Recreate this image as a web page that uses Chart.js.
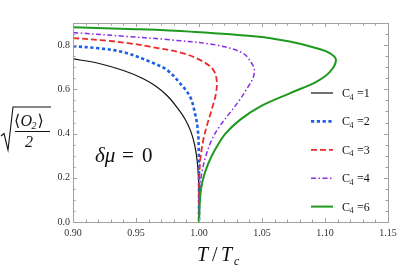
<!DOCTYPE html>
<html>
<head>
<meta charset="utf-8">
<script src="https://cdn.jsdelivr.net/npm/chart.js@4.4.1/dist/chart.umd.min.js"></script>
<style>
    html, body { margin: 0; padding: 0; background: #fff; }
    #wrap { width: 415px; height: 277px; }
</style>
</head>
<body>
<div id="wrap"><canvas id="chart" width="415" height="277"></canvas></div>
<script>
// T / Tc and sqrt(<O2>/2), one pair of arrays per C4
const c1T = [0.900, 0.920, 0.940, 0.955, 0.965, 0.975, 0.983, 0.989, 0.9935, 0.9965, 0.9985, 0.9996, 1.000, 1.000];
const c1V = [0.738, 0.718, 0.685, 0.650, 0.617, 0.570, 0.515, 0.465, 0.410, 0.350, 0.280, 0.200, 0.100, 0.000];

const c2T = [0.900, 0.920, 0.940, 0.961, 0.9744, 0.985, 0.9929, 0.9968, 0.9990, 0.9998, 1.000, 1.000];
const c2V = [0.795, 0.786, 0.768, 0.725, 0.688, 0.627, 0.567, 0.492, 0.420, 0.330, 0.200, 0.000];

const c3T = [0.900, 0.925, 0.945, 0.961, 0.9875, 1.0034, 1.0113, 1.0140, 1.0135, 1.0100, 1.0060, 1.0034, 1.0010, 1.0002, 1.000];
const c3V = [0.832, 0.821, 0.808, 0.793, 0.763, 0.725, 0.688, 0.643, 0.582, 0.507, 0.431, 0.371, 0.280, 0.200, 0.000];

const c4T = [0.900, 0.943, 0.977, 1.014, 1.035, 1.0418, 1.0440, 1.0428, 1.0390, 1.0320, 1.0240, 1.0160, 1.0100, 1.0055, 1.0025, 1.0008, 1.000, 1.000];
const c4V = [0.857, 0.839, 0.824, 0.800, 0.763, 0.718, 0.685, 0.650, 0.612, 0.550, 0.490, 0.430, 0.370, 0.300, 0.230, 0.160, 0.080, 0.000];

const c6T = [0.900, 0.950, 0.993, 1.0458, 1.072, 1.0934, 1.104, 1.1087, 1.104, 1.0934, 1.072, 1.0484, 1.0325, 1.021, 1.013, 1.007, 1.003, 1.001, 1.000];
const c6V = [0.881, 0.872, 0.861, 0.839, 0.816, 0.786, 0.763, 0.733, 0.680, 0.635, 0.582, 0.522, 0.462, 0.400, 0.330, 0.260, 0.190, 0.120, 0.000];

const c4Labels = ['1', '2', '3', '4', '6'];
const xTicks = [0.90, 0.95, 1.00, 1.05, 1.10, 1.15];
const yTicks = [0.0, 0.2, 0.4, 0.6, 0.8];

const SERIF = '"Liberation Serif", "DejaVu Serif", serif';

function pts(T, V) {
    return T.map((t, i) => ({ x: t, y: V[i] }));
}

// Mathematica style frame: box with inward ticks on all four sides
const framePlugin = {
    id: 'frame',
    afterDatasetsDraw(chart) {
        const { ctx, chartArea: a, scales: { x, y } } = chart;
        ctx.save();
        ctx.strokeStyle = '#a0a0a0';
        ctx.lineWidth = 1;
        ctx.setLineDash([]);
        ctx.strokeRect(a.left + 0.5, a.top + 0.5, a.right - a.left, a.bottom - a.top);

        ctx.beginPath();
        for (let i = 0; i <= 25; i++) {
            const px = Math.round(x.getPixelForValue(0.90 + i * 0.01)) + 0.5;
            const len = i % 5 === 0 ? 4 : 2.5;
            ctx.moveTo(px, a.bottom);
            ctx.lineTo(px, a.bottom - len);
            ctx.moveTo(px, a.top);
            ctx.lineTo(px, a.top + len);
        }
        for (let i = 0; i <= 18; i++) {
            const py = Math.round(y.getPixelForValue(i * 0.05)) + 0.5;
            const len = i % 4 === 0 ? 4 : 2.5;
            ctx.moveTo(a.left, py);
            ctx.lineTo(a.left + len, py);
            ctx.moveTo(a.right, py);
            ctx.lineTo(a.right - len, py);
        }
        ctx.stroke();
        ctx.restore();
    }
};

// legend rows, axis titles and the delta mu note
const textPlugin = {
    id: 'texts',
    afterDraw(chart) {
        const ctx = chart.ctx;
        ctx.save();
        ctx.fillStyle = '#111';
        ctx.textBaseline = 'alphabetic';
        ctx.textAlign = 'left';

        chart.data.datasets.forEach(function (ds, i) {
            const yRow = 93 + i * 28.4;
            ctx.save();
            ctx.strokeStyle = ds.borderColor;
            ctx.lineWidth = ds.borderWidth;
            ctx.setLineDash(ds.borderDash || []);
            ctx.beginPath();
            ctx.moveTo(311, yRow);
            ctx.lineTo(333, yRow);
            ctx.stroke();
            ctx.restore();

            ctx.font = '12px ' + SERIF;
            ctx.fillText('C', 342, yRow + 4);
            ctx.font = '8px ' + SERIF;
            ctx.fillText('4', 349.5, yRow + 6.5);
            ctx.font = '12px ' + SERIF;
            ctx.fillText('=' + c4Labels[i], 357, yRow + 4);
        });

        // delta mu = 0
        ctx.font = 'italic 21px ' + SERIF;
        ctx.fillText('δμ', 95, 162);
        ctx.font = '21px ' + SERIF;
        ctx.fillText('=', 122, 162);
        ctx.fillText('0', 142, 162);

        // x title T / T_c
        ctx.font = 'italic 20px ' + SERIF;
        ctx.fillText('T', 197, 261);
        ctx.font = '20px ' + SERIF;
        ctx.fillText('/', 212, 261);
        ctx.font = 'italic 20px ' + SERIF;
        ctx.fillText('T', 221, 261);
        ctx.font = 'italic 12px ' + SERIF;
        ctx.fillText('c', 234, 265);

        // y title sqrt(<O2>/2)
        ctx.strokeStyle = '#111';
        ctx.lineWidth = 1.1;
        ctx.beginPath();
        ctx.moveTo(1, 136);
        ctx.lineTo(4, 133.5);
        ctx.lineTo(8, 150);
        ctx.lineTo(13, 107);
        ctx.lineTo(51, 107);
        ctx.moveTo(15, 131.5);
        ctx.lineTo(50, 131.5);
        ctx.stroke();

        ctx.font = '16px ' + SERIF;
        ctx.fillText('\u27E8', 14, 126);
        ctx.font = 'italic 16px ' + SERIF;
        ctx.fillText('O', 20.5, 126);
        ctx.font = 'italic 10px ' + SERIF;
        ctx.fillText('2', 31.5, 128.5);
        ctx.font = '16px ' + SERIF;
        ctx.fillText('\u27E9', 37.5, 126);
        ctx.font = 'italic 16px ' + SERIF;
        ctx.fillText('2', 25, 147);
        ctx.restore();
    }
};

const tickFont = { family: SERIF, size: 10 };

new Chart(document.getElementById('chart').getContext('2d'), {
    type: 'scatter',
    data: {
        datasets: [
            {
                label: 'C4 =1',
                data: pts(c1T, c1V),
                borderColor: '#111111',
                borderWidth: 1.2,
                order: 4
            },
            {
                label: 'C4 =2',
                data: pts(c2T, c2V),
                borderColor: '#1f5fe6',
                borderWidth: 2.6,
                borderDash: [3.2, 2.6],
                order: 3
            },
            {
                label: 'C4 =3',
                data: pts(c3T, c3V),
                borderColor: '#ee2a2a',
                borderWidth: 1.8,
                borderDash: [6, 3],
                order: 2
            },
            {
                label: 'C4 =4',
                data: pts(c4T, c4V),
                borderColor: '#8a2be8',
                borderWidth: 1.5,
                borderDash: [5, 2.5, 1.5, 2.5],
                order: 1
            },
            {
                label: 'C4 =6',
                data: pts(c6T, c6V),
                borderColor: '#1e9a1e',
                borderWidth: 2,
                order: 0
            }
        ].map(function (ds) {
            return Object.assign({ showLine: true, pointRadius: 0, tension: 0.35, fill: false }, ds);
        })
    },
    options: {
        responsive: false,
        animation: false,
        devicePixelRatio: 1,
        layout: { padding: { left: 0, top: 23, right: 27, bottom: 0 } },
        plugins: {
            legend: { display: false },
            tooltip: { enabled: false }
        },
        scales: {
            x: {
                type: 'linear',
                min: 0.9,
                max: 1.15,
                afterBuildTicks: function (s) { s.ticks = xTicks.map((v) => ({ value: v })); },
                afterFit: function (s) { s.height = 55; },
                grid: { display: false, drawTicks: false },
                border: { display: false },
                ticks: {
                    padding: 5,
                    font: tickFont,
                    color: '#333',
                    maxRotation: 0,
                    autoSkip: false,
                    callback: (v) => Number(v).toFixed(2)
                }
            },
            y: {
                type: 'linear',
                min: 0,
                max: 0.9,
                afterBuildTicks: function (s) { s.ticks = yTicks.map((v) => ({ value: v })); },
                afterFit: function (s) { s.width = 73; },
                grid: { display: false, drawTicks: false },
                border: { display: false },
                ticks: {
                    padding: 3,
                    font: tickFont,
                    color: '#333',
                    autoSkip: false,
                    callback: (v) => Number(v).toFixed(1)
                }
            }
        }
    },
    plugins: [framePlugin, textPlugin]
});
</script>
</body>
</html>
